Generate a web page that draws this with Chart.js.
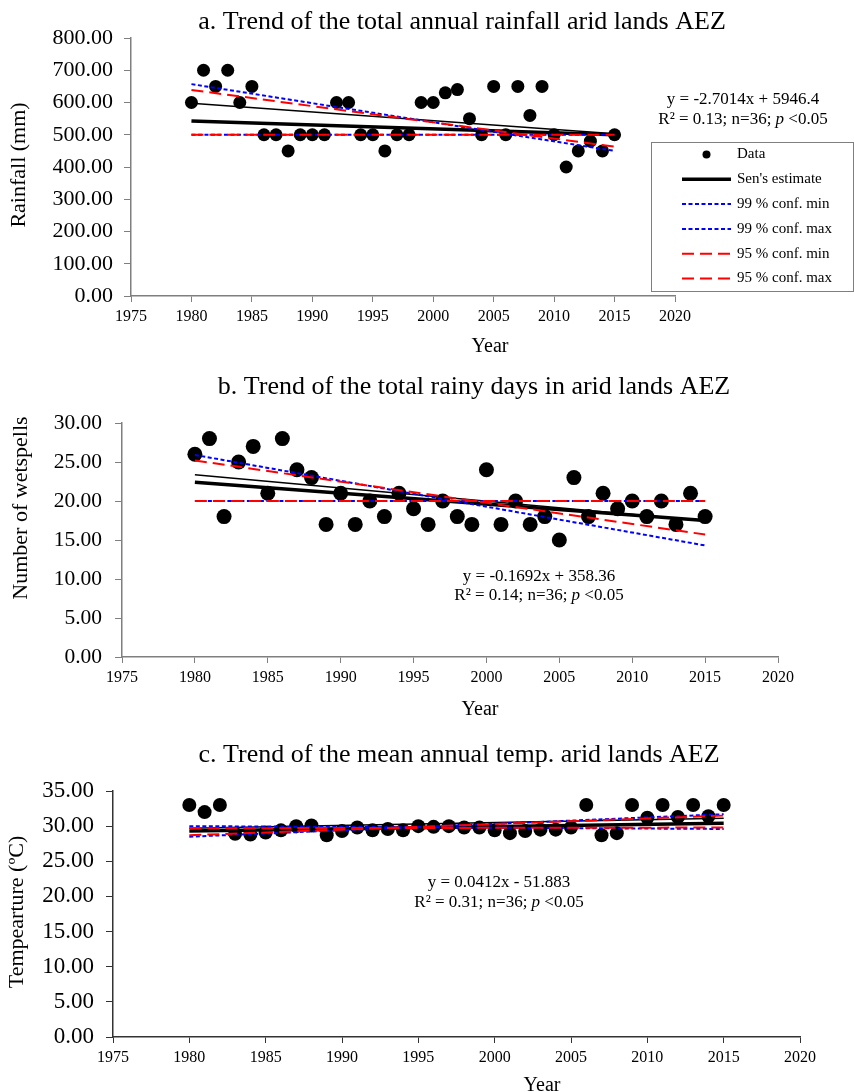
<!DOCTYPE html>
<html><head><meta charset="utf-8">
<script src="https://cdn.jsdelivr.net/npm/chart.js@4/dist/chart.umd.min.js"></script>
<style>
html,body{margin:0;padding:0;background:#fff;}
#wrap{position:relative;width:854px;height:1092px;overflow:hidden;background:#fff;}
canvas{position:absolute;left:0;}
</style></head><body>
<div id="wrap">
<canvas id="ca" width="854" height="365" style="top:0px"></canvas>
<canvas id="cb" width="854" height="365" style="top:365px"></canvas>
<canvas id="cc" width="854" height="362" style="top:730px"></canvas>
</div>
<script>
// ---------- data ----------
const years = [1980,1981,1982,1983,1984,1985,1986,1987,1988,1989,1990,1991,1992,1993,1994,1995,1996,1997,1998,1999,2000,2001,2002,2003,2004,2005,2006,2007,2008,2009,2010,2011,2012,2013,2014,2015];
const rainfall = [600,700,650,700,600,650,500,500,450,500,500,500,600,600,500,500,450,500,500,600,600,630,640,550,500,650,500,650,560,650,500,400,450,480,450,500];
const rainyDays = [26,28,18,25,27,21,28,24,23,17,21,17,20,18,21,19,17,20,18,17,24,17,20,17,18,15,23,18,21,19,20,18,20,17,21,18];
const temperature = [33,32,33,28.9,28.8,29.1,29.4,30.0,30.1,28.7,29.3,29.8,29.4,29.6,29.4,30.0,29.9,30.0,29.8,29.8,29.4,29.0,29.3,29.5,29.5,29.8,33,28.7,29.0,33,31.2,33,31.3,33,31.4,33];

const lineYears = [1980, 2015];
const rainSen = [543, 500];
const rain99min = [500, 500];
const rain99max = [657, 450];
const rain95min = [500, 500];
const rain95max = [639, 463];
const rainTrend = [597.6, 503.1];

const daysSen = [22.4, 17.5];
const days99min = [20, 20];
const days99max = [25.9, 14.3];
const days95min = [20, 20];
const days95max = [25.2, 15.7];
const daysTrend = [23.35, 17.43];

const tempSen = [29.3, 30.4];
const temp99min = [30.0, 29.6];
const temp99max = [28.5, 31.7];
const temp95min = [29.7, 29.8];
const temp95max = [28.7, 31.5];
const tempTrend = [29.69, 31.13];

const xTickYears = [1975,1980,1985,1990,1995,2000,2005,2010,2015,2020];
const rainTicks = [0,100,200,300,400,500,600,700,800];
const daysTicks = [0,5,10,15,20,25,30];
const tempTicks = [0,5,10,15,20,25,30,35];

const seriesLabels = ["Data", "Sen's estimate", "99 % conf. min", "99 % conf. max", "95 % conf. min", "95 % conf. max"];

// ---------- helpers ----------
const FONT = '"Liberation Serif", "Times New Roman", serif';
Chart.defaults.font.family = FONT;
Chart.defaults.color = '#000';

function pts(xs, ys){ return xs.map((x,i)=>({x:x, y:ys[i]})); }

function makeDatasets(values, sen, c99min, c99max, c95min, c95max, trend, radius){
  const line = (label, ys, color, width, dash, order, legend) => ({
    label, data: pts(lineYears, ys), showLine: true, borderColor: color, backgroundColor: color,
    borderWidth: width, borderDash: dash, pointRadius: 0, order, inLegend: legend, borderCapStyle:'butt'
  });
  return [
    {label: seriesLabels[0], data: pts(years, values), showLine:false, pointRadius: radius, pointHoverRadius: radius,
     backgroundColor:'#000', borderColor:'#000', borderWidth:0, order: 10, inLegend: true},
    line(seriesLabels[1], sen, '#000', 3.5, [], 6, true),
    line(seriesLabels[2], c99min, '#0000ff', 2, [4,2.5], 4, true),
    line(seriesLabels[3], c99max, '#0000ff', 2, [4,2.5], 3, true),
    line(seriesLabels[4], c95min, '#ff0000', 2, [12,6], 2, true),
    line(seriesLabels[5], c95max, '#ff0000', 2, [12,6], 1, true),
    line('Linear trend', trend, '#000', 1.5, [], 5, false)
  ];
}

const textPlugin = {
  id: 'texts',
  afterDraw(chart, args, opts){
    const ctx = chart.ctx;
    (opts.items || []).forEach(it => {
      ctx.save();
      ctx.fillStyle = '#000';
      ctx.textBaseline = 'middle';
      ctx.translate(it.x, it.y);
      if (it.rotate) ctx.rotate(it.rotate);
      const segs = it.segs || [{t: it.text}];
      const fonts = segs.map(s => (s.italic ? 'italic ' : '') + it.size + 'px ' + FONT);
      let total = 0;
      const widths = segs.map((s,i) => { ctx.font = fonts[i]; const w = ctx.measureText(s.t).width; total += w; return w; });
      let x = -total/2;
      segs.forEach((s,i) => { ctx.font = fonts[i]; ctx.textAlign = 'left'; ctx.fillText(s.t, x, 0); x += widths[i]; });
      ctx.restore();
    });
  }
};

const boxLegendPlugin = {
  id: 'boxLegend',
  afterDraw(chart, args, opts){
    if (!opts || !opts.display) return;
    const ctx = chart.ctx;
    ctx.save();
    ctx.fillStyle = '#fff';
    ctx.fillRect(opts.x, opts.y, opts.w, opts.h);
    ctx.strokeStyle = '#7f7f7f';
    ctx.lineWidth = 1;
    ctx.strokeRect(opts.x + 0.5, opts.y + 0.5, opts.w, opts.h);
    let row = 0;
    chart.data.datasets.forEach(ds => {
      if (!ds.inLegend) return;
      const yy = opts.firstRow + row * opts.rowStep;
      if (!ds.showLine) {
        ctx.fillStyle = ds.backgroundColor;
        ctx.beginPath();
        ctx.arc((opts.symX1 + opts.symX2)/2, yy, opts.dotR, 0, Math.PI*2);
        ctx.fill();
      } else {
        ctx.strokeStyle = ds.borderColor;
        ctx.lineWidth = ds.borderWidth;
        ctx.setLineDash(ds.borderDash || []);
        ctx.beginPath();
        ctx.moveTo(opts.symX1, yy);
        ctx.lineTo(opts.symX2, yy);
        ctx.stroke();
        ctx.setLineDash([]);
      }
      ctx.fillStyle = '#000';
      ctx.font = opts.size + 'px ' + FONT;
      ctx.textAlign = 'left';
      ctx.textBaseline = 'middle';
      ctx.fillText(ds.label, opts.textX, yy);
      row++;
    });
    ctx.restore();
  }
};

function makeChart(id, cfg){
  return new Chart(document.getElementById(id), {
    type: 'scatter',
    data: { datasets: makeDatasets(cfg.values, cfg.sen, cfg.c99min, cfg.c99max, cfg.c95min, cfg.c95max, cfg.trend, cfg.radius) },
    plugins: [textPlugin, boxLegendPlugin],
    options: {
      responsive: false, animation: false, devicePixelRatio: 1,
      layout: { padding: cfg.padding },
      plugins: {
        legend: { display: false }, title: { display: false }, tooltip: { enabled: false },
        texts: { items: cfg.texts },
        boxLegend: cfg.legend || { display: false }
      },
      scales: {
        x: {
          type: 'linear', min: 1975, max: 2020,
          afterBuildTicks: s => { s.ticks = xTickYears.map(v => ({value: v})); },
          afterFit: s => { s.height = 30; },
          ticks: { font: { size: 16 }, color: '#000', padding: 5, maxRotation: 0, autoSkip: false, callback: v => String(v) },
          grid: { drawOnChartArea: false, drawTicks: true, tickLength: 6, color: cfg.axisColor, lineWidth: 1 },
          border: { display: true, color: cfg.axisColor, width: 1.5 }
        },
        y: {
          type: 'linear', min: cfg.yTicks[0], max: cfg.yTicks[cfg.yTicks.length - 1],
          afterBuildTicks: s => { s.ticks = cfg.yTicks.map(v => ({value: v})); },
          afterFit: s => { s.width = cfg.yWidth; },
          ticks: { font: { size: cfg.yFont }, color: '#000', padding: cfg.yPad, callback: v => Number(v).toFixed(2), autoSkip: false },
          grid: { drawOnChartArea: false, drawTicks: true, tickLength: 7, color: cfg.axisColor, lineWidth: 1 },
          border: { display: true, color: cfg.axisColor, width: 1.5 }
        }
      }
    }
  });
}

const eq2 = (r2) => [{t: 'R² = ' + r2 + '; n=36; '}, {t: 'p', italic: true}, {t: ' <0.05'}];

makeChart('ca', {
  values: rainfall, sen: rainSen, c99min: rain99min, c99max: rain99max, c95min: rain95min, c95max: rain95max, trend: rainTrend,
  radius: 6.5, yTicks: rainTicks, yWidth: 131, yFont: 22, yPad: 11, axisColor: '#7f7f7f',
  padding: { left: 0, top: 38, right: 179, bottom: 39 },
  texts: [
    { text: 'a. Trend of the total annual rainfall arid lands AEZ', x: 462, y: 22, size: 26 },
    { text: 'Rainfall (mm)', x: 19, y: 165, size: 22, rotate: -Math.PI/2 },
    { text: 'Year', x: 490, y: 347, size: 20 },
    { text: 'y = -2.7014x + 5946.4', x: 743, y: 100, size: 17 },
    { segs: eq2('0.13'), x: 743, y: 119.5, size: 17 }
  ],
  legend: { display: true, x: 651, y: 142, w: 202, h: 149, firstRow: 154.5, rowStep: 24.8, symX1: 682, symX2: 731, textX: 737, dotR: 4, size: 15 }
});

makeChart('cb', {
  values: rainyDays, sen: daysSen, c99min: days99min, c99max: days99max, c95min: days95min, c95max: days95max, trend: daysTrend,
  radius: 7.5, yTicks: daysTicks, yWidth: 122, yFont: 21.5, yPad: 13, axisColor: '#7f7f7f',
  padding: { left: 0, top: 58, right: 76, bottom: 43 },
  texts: [
    { text: 'b. Trend of the total rainy days in arid lands AEZ', x: 474, y: 22, size: 26 },
    { text: 'Number of wetspells', x: 21, y: 143, size: 22, rotate: -Math.PI/2 },
    { text: 'Year', x: 480, y: 345, size: 20 },
    { text: 'y = -0.1692x + 358.36', x: 539, y: 212, size: 17 },
    { segs: eq2('0.14'), x: 539, y: 230.5, size: 17 }
  ]
});

makeChart('cc', {
  values: temperature, sen: tempSen, c99min: temp99min, c99max: temp99max, c95min: temp95min, c95max: temp95max, trend: tempTrend,
  radius: 7, yTicks: tempTicks, yWidth: 113, yFont: 23, yPad: 12, axisColor: '#333333',
  padding: { left: 0, top: 61, right: 54, bottom: 25 },
  texts: [
    { text: 'c. Trend of the mean annual temp. arid lands AEZ', x: 459, y: 25, size: 26 },
    { text: 'Tempearture (ºC)', x: 17, y: 182, size: 22, rotate: -Math.PI/2 },
    { text: 'Year', x: 542, y: 356, size: 20 },
    { text: 'y = 0.0412x - 51.883', x: 499, y: 153, size: 17 },
    { segs: eq2('0.31'), x: 499, y: 172.5, size: 17 }
  ]
});
</script>
</body></html>
